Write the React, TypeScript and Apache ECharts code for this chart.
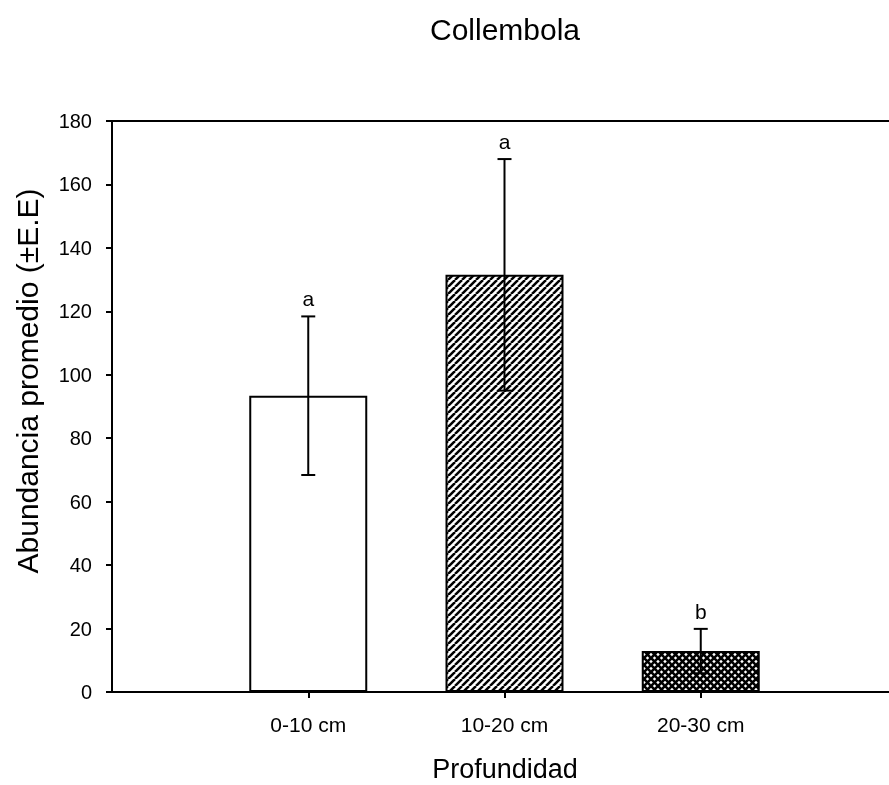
import React, { useEffect, useRef } from "react";
import * as echarts from "echarts";

const categories = ["", "0-10 cm", "10-20 cm", "20-30 cm", ""];
const means = [null, 93.4, 131.5, 12.9, null];
const errors = [null, 25, 36.5, 7];
const letters = ["", "a", "a", "b"];
const yTicks = { min: 0, max: 180, interval: 20 };
const titleText = "Collembola";
const xName = "Profundidad";
const yName = "Abundancia promedio (±E.E)";

const FONT = "'Liberation Sans', Arial, sans-serif";

function makeHatch(): HTMLCanvasElement {
  const s = 7;
  const c = document.createElement("canvas");
  c.width = s;
  c.height = s;
  const ctx = c.getContext("2d")!;
  ctx.fillStyle = "#fff";
  ctx.fillRect(0, 0, s, s);
  ctx.strokeStyle = "#000";
  ctx.lineWidth = 2.5;
  for (const o of [-s, 0, s]) {
    ctx.beginPath();
    ctx.moveTo(o, s);
    ctx.lineTo(o + s, 0);
    ctx.stroke();
  }
  return c;
}

function makeCross(): HTMLCanvasElement {
  const s = 7;
  const c = document.createElement("canvas");
  c.width = s;
  c.height = s;
  const ctx = c.getContext("2d")!;
  ctx.fillStyle = "#fff";
  ctx.fillRect(0, 0, s, s);
  ctx.strokeStyle = "#000";
  ctx.lineWidth = 2.6;
  for (const o of [-s, 0, s]) {
    ctx.beginPath();
    ctx.moveTo(o, s);
    ctx.lineTo(o + s, 0);
    ctx.stroke();
    ctx.beginPath();
    ctx.moveTo(o, 0);
    ctx.lineTo(o + s, s);
    ctx.stroke();
  }
  return c;
}

export default function App() {
  const ref = useRef<HTMLDivElement>(null);
  useEffect(() => {
    document.body.style.margin = "0";
    const chart = echarts.init(ref.current!, null, { renderer: "svg" });
    const hatch = makeHatch();
    const cross = makeCross();
    const fills: any[] = [
      null,
      "#ffffff",
      { image: hatch, repeat: "repeat", imageWidth: 7, imageHeight: 7 },
      { image: cross, repeat: "repeat", imageWidth: 7, imageHeight: 7 },
      null,
    ];
    const barData = means.map((v, i) =>
      v == null
        ? null
        : { value: v, itemStyle: { color: fills[i], borderColor: "#000", borderWidth: 2 } }
    );
    const errData = means
      .map((v, i) => (v == null ? null : [i, v - (errors[i] as number), v + (errors[i] as number)]))
      .filter((d) => d != null);

    chart.setOption({
      animation: false,
      grid: { left: 112, top: 121, right: -8, bottom: 93, show: true, borderColor: "#000", borderWidth: 2, outerBoundsMode: "none" },
      xAxis: {
        type: "category",
        data: categories,
        boundaryGap: false,
        axisLine: { lineStyle: { color: "#000", width: 2 } },
        axisTick: {
          show: true,
          length: 6,
          lineStyle: { color: "#000", width: 2 },
          interval: (i: number) => i >= 1 && i <= 3,
        },
        axisLabel: { interval: 0, margin: 22, color: "#000", fontSize: 21, fontFamily: FONT },
        splitLine: { show: false },
      },
      yAxis: {
        type: "value",
        min: yTicks.min,
        max: yTicks.max,
        interval: yTicks.interval,
        axisLine: { show: true, lineStyle: { color: "#000", width: 2 } },
        axisTick: { show: true, length: 6, lineStyle: { color: "#000", width: 2 } },
        axisLabel: { margin: 20, color: "#000", fontSize: 20, fontFamily: FONT },
        splitLine: { show: false },
      },
      graphic: [
        { type: "text", x: 505, y: 29, style: { text: titleText, fill: "#000", font: `30px ${FONT}`, align: "center", verticalAlign: "middle" } },
        { type: "text", x: 505, y: 769, style: { text: xName, fill: "#000", font: `27px ${FONT}`, align: "center", verticalAlign: "middle" } },
        { type: "text", x: 27, y: 381, rotation: Math.PI / 2, style: { text: yName, fill: "#000", font: `30px ${FONT}`, align: "center", verticalAlign: "middle" } },
      ],
      series: [
        {
          type: "bar",
          data: barData,
          barWidth: 118,
          z: 2,
        },
        {
          type: "custom",
          z: 5,
          data: errData,
          encode: { x: 0, y: [1, 2] },
          renderItem: (params: any, api: any) => {
            const x = api.value(0);
            const lo = api.coord([x, api.value(1)]);
            const hi = api.coord([x, api.value(2)]);
            const hw = 7;
            const ls = { stroke: "#000", lineWidth: 2 };
            const idx = x as number;
            return {
              type: "group",
              children: [
                { type: "line", shape: { x1: hi[0], y1: hi[1], x2: lo[0], y2: lo[1] }, style: ls },
                { type: "line", shape: { x1: hi[0] - hw, y1: hi[1], x2: hi[0] + hw, y2: hi[1] }, style: ls },
                { type: "line", shape: { x1: lo[0] - hw, y1: lo[1], x2: lo[0] + hw, y2: lo[1] }, style: ls },
                {
                  type: "text",
                  x: hi[0],
                  y: hi[1] - 7,
                  style: { text: letters[idx], fill: "#000", font: `21px ${FONT}`, align: "center", verticalAlign: "bottom" },
                },
              ],
            };
          },
        },
      ],
    });
    return () => chart.dispose();
  }, []);
  return <div ref={ref} style={{ width: 889, height: 785, position: "fixed", left: 0, top: 0 }} />;
}
